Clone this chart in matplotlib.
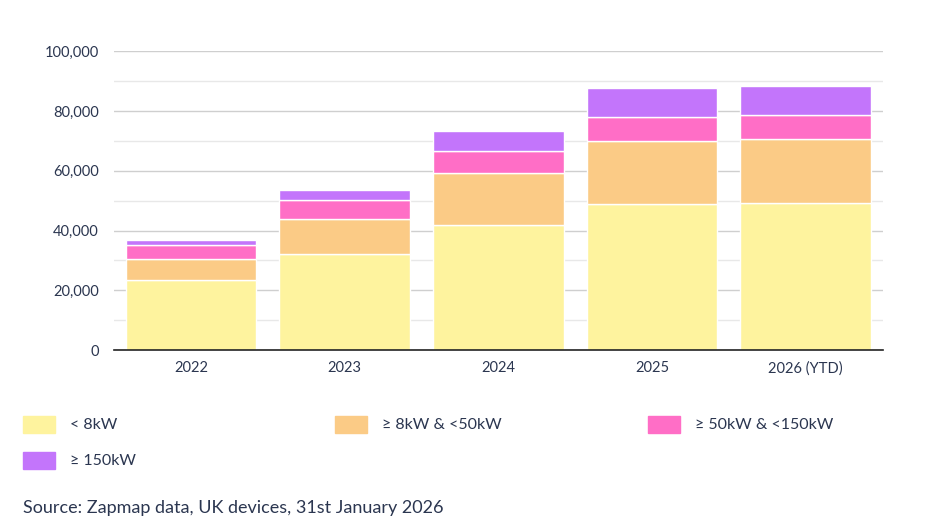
import matplotlib.pyplot as plt
from matplotlib.patches import Rectangle

years = ["2022", "2023", "2024", "2025", "2026 (YTD)"]
below_8 = [23300, 32000, 41850, 49000, 49300]
kw8_50 = [7050, 11700, 17300, 21000, 21200]
kw50_150 = [4900, 6350, 7370, 7940, 8050]
kw150_up = [1570, 3470, 6800, 9810, 9800]

labels = ["< 8kW", "≥ 8kW & <50kW", "≥ 50kW & <150kW", "≥ 150kW"]
colors = ["#fef39e", "#fbcb86", "#ff6ec6", "#c375fb"]
series = [below_8, kw8_50, kw50_150, kw150_up]

plt.rcParams['font.family'] = ['Lato', 'DejaVu Sans']
text_col = "#2b3650"

fig = plt.figure(figsize=(9.39, 5.26), dpi=100)
ax = fig.add_axes([0.1214, 0.3346, 0.8186, 0.5679])

x = range(len(years))
bottom = [0] * len(years)
for vals, col, lab in zip(series, colors, labels):
    ax.bar(x, vals, bottom=bottom, width=0.85, color=col, edgecolor="white",
           linewidth=1, label=lab, zorder=3)
    bottom = [b + v for b, v in zip(bottom, vals)]

ax.set_xlim(-0.5, len(years) - 0.5)
ax.set_ylim(0, 100000)
ax.set_yticks(range(0, 100001, 20000))
ax.set_yticks(range(10000, 100000, 20000), minor=True)
ax.yaxis.set_major_formatter(plt.FuncFormatter(lambda v, p: f"{int(v):,}"))
ax.set_xticks(list(x))
ax.set_xticklabels(years)
ax.tick_params(axis="both", length=0, labelsize=10.5, colors=text_col)
ax.tick_params(axis="y", which="minor", length=0)
ax.tick_params(axis="x", pad=8)
ax.tick_params(axis="y", pad=11)
ax.grid(axis="y", which="major", color="#cfcfcf", linewidth=1, zorder=0)
ax.grid(axis="y", which="minor", color="#e8e8e8", linewidth=1, zorder=0)
for s in ["top", "right", "left"]:
    ax.spines[s].set_visible(False)
ax.spines["bottom"].set_color("#222222")
ax.spines["bottom"].set_linewidth(1.2)
ax.spines["bottom"].set_zorder(4)

# legend drawn by hand: 3 columns
W, H = 939, 526
pos = [(23, 416), (335, 416), (648, 416), (23, 452)]
for (px, py), col, lab in zip(pos, colors, labels):
    fig.add_artist(Rectangle((px / W, 1 - (py + 17) / H), 32 / W, 17 / H,
                             transform=fig.transFigure, color=col))
    fig.text((px + 47) / W, 1 - (py + 9) / H, lab, fontsize=11.5,
             color=text_col, va="center", ha="left")

fig.text(23 / W, 1 - 508 / H, "Source: Zapmap data, UK devices, 31st January 2026",
         fontsize=13, color=text_col, va="center", ha="left")

fig.savefig("out.png", dpi=100)
